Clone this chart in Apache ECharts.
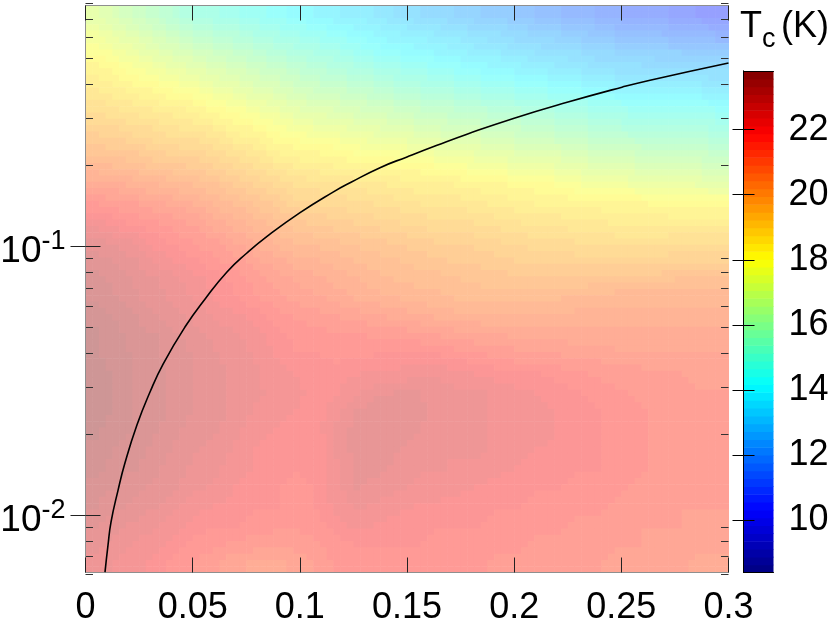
<!DOCTYPE html>
<html>
<head>
<meta charset="utf-8">
<style>
  html, body { margin: 0; padding: 0; background: #fff; }
  #chart { width: 830px; height: 619px; }
</style>
</head>
<body>
<div id="chart"></div>
<script src="https://cdn.jsdelivr.net/npm/echarts@6/dist/echarts.min.js"></script>
<script>
// cell edges of the map, left to right and top to bottom
const xEdges = [0, .0094, .0188, .0281, .0375, .0469, .0563, .0656, .075, .0844, .0938, .1031, .1125, .1219, .1313, .1406,
  .15, .1594, .1688, .1781, .1875, .1969, .2063, .2156, .225, .2344, .2438, .2531, .2625, .2719, .2813, .2906, .3];
const yEdges = [.785, .66846, .56851, .48351, .41122, .34974, .29745, .25298, .21516, .18299, .15563, .13236, .11257, .09574, .08143,
  .06925, .0589, .05009, .0426, .03623, .03082, .02621, .02229, .01896, .01612, .01371, .01166, .00992, .00843, .00717, .0061];

// Tc(K), one list per row, top row first
const tcRows = [
  [17.1,16.7,16.3,15.9,15.5,15.1,14.9,14.7,14.5,14.3,14.1,13.9,13.7,13.6,13.4,13.2,13.0,12.9,12.7,12.5,12.4,12.2,12.0,11.8,11.7,11.5,11.3,11.2,11.1,11.0,10.8,10.7],
  [17.6,17.2,16.9,16.5,16.2,15.8,15.6,15.4,15.1,14.9,14.7,14.5,14.3,14.1,13.9,13.7,13.6,13.4,13.3,13.1,13.0,12.8,12.6,12.5,12.3,12.2,12.0,11.9,11.8,11.7,11.6,11.5],
  [18.0,17.7,17.4,17.1,16.8,16.5,16.3,16.0,15.8,15.5,15.3,15.1,14.9,14.6,14.4,14.2,14.1,13.9,13.8,13.6,13.5,13.3,13.2,13.1,13.0,12.8,12.7,12.6,12.5,12.5,12.4,12.3],
  [18.4,18.2,17.9,17.7,17.4,17.2,16.9,16.7,16.4,16.2,15.9,15.7,15.5,15.3,15.1,14.9,14.7,14.6,14.4,14.2,14.1,13.9,13.8,13.6,13.5,13.3,13.2,13.2,13.1,13.1,13.0,13.0],
  [18.8,18.6,18.4,18.2,18.0,17.8,17.5,17.3,17.0,16.8,16.5,16.3,16.2,16.0,15.8,15.6,15.4,15.3,15.1,14.9,14.8,14.6,14.5,14.3,14.2,14.0,13.9,13.8,13.8,13.7,13.7,13.6],
  [19.2,19.0,18.9,18.7,18.6,18.4,18.1,17.9,17.6,17.4,17.1,16.9,16.8,16.6,16.5,16.3,16.1,16.0,15.8,15.7,15.5,15.4,15.3,15.1,15.0,14.8,14.7,14.6,14.6,14.5,14.5,14.4],
  [19.6,19.5,19.3,19.2,19.0,18.9,18.7,18.4,18.2,17.9,17.7,17.5,17.4,17.2,17.1,16.9,16.8,16.6,16.5,16.4,16.2,16.1,16.0,15.8,15.7,15.5,15.4,15.3,15.3,15.2,15.2,15.1],
  [20.0,19.9,19.8,19.6,19.5,19.4,19.2,18.9,18.7,18.4,18.2,18.1,18.0,17.8,17.7,17.6,17.5,17.3,17.2,17.1,16.9,16.8,16.7,16.6,16.4,16.3,16.2,16.1,16.0,16.0,15.9,15.8],
  [20.5,20.4,20.3,20.1,20.0,19.9,19.7,19.4,19.2,18.9,18.7,18.6,18.5,18.4,18.3,18.2,18.1,18.0,17.9,17.7,17.6,17.5,17.4,17.3,17.1,17.0,16.9,16.8,16.8,16.7,16.6,16.5],
  [21.1,21.0,20.8,20.7,20.5,20.4,20.2,19.9,19.7,19.4,19.2,19.1,19.0,18.9,18.8,18.7,18.6,18.6,18.5,18.4,18.3,18.2,18.1,18.0,17.8,17.7,17.6,17.5,17.5,17.4,17.3,17.2],
  [21.7,21.5,21.4,21.2,21.1,20.9,20.6,20.4,20.1,19.9,19.6,19.5,19.4,19.3,19.2,19.1,19.0,18.9,18.9,18.8,18.7,18.6,18.5,18.5,18.4,18.4,18.3,18.3,18.2,18.2,18.1,18.1],
  [22.2,22.0,21.8,21.7,21.5,21.3,21.0,20.8,20.5,20.3,20.0,19.9,19.8,19.7,19.6,19.5,19.4,19.3,19.3,19.2,19.1,19.0,18.9,18.9,18.8,18.8,18.7,18.7,18.7,18.6,18.6,18.6],
  [22.7,22.5,22.3,22.0,21.8,21.6,21.4,21.1,20.9,20.6,20.4,20.3,20.2,20.1,20.0,19.9,19.8,19.7,19.7,19.6,19.5,19.4,19.3,19.3,19.2,19.2,19.1,19.1,19.1,19.2,19.2,19.2],
  [23.0,22.8,22.6,22.3,22.1,21.9,21.7,21.5,21.2,21.0,20.8,20.7,20.6,20.4,20.3,20.2,20.1,20.0,19.9,19.9,19.8,19.7,19.7,19.7,19.6,19.6,19.6,19.6,19.6,19.7,19.7,19.7],
  [23.2,23.0,22.8,22.6,22.4,22.2,22.0,21.8,21.5,21.3,21.1,21.0,20.8,20.7,20.5,20.4,20.3,20.3,20.2,20.1,20.1,20.0,20.0,20.0,20.0,20.1,20.1,20.1,20.1,20.2,20.2,20.2],
  [23.3,23.1,22.9,22.7,22.5,22.3,22.1,21.9,21.7,21.5,21.3,21.2,21.1,20.9,20.8,20.7,20.6,20.5,20.4,20.4,20.3,20.3,20.3,20.4,20.5,20.5,20.6,20.6,20.6,20.6,20.6,20.6],
  [23.5,23.3,23.1,22.9,22.7,22.5,22.3,22.2,22.0,21.8,21.6,21.5,21.4,21.3,21.2,21.1,21.0,20.9,20.8,20.8,20.7,20.7,20.7,20.7,20.8,20.8,20.8,20.8,20.8,20.8,20.8,20.8],
  [23.6,23.4,23.2,23.1,22.9,22.7,22.5,22.4,22.2,22.0,21.8,21.8,21.7,21.7,21.6,21.6,21.5,21.4,21.3,21.2,21.2,21.1,21.1,21.1,21.0,21.0,21.0,21.0,21.0,21.0,21.0,21.0],
  [23.6,23.4,23.3,23.1,23.0,22.8,22.6,22.5,22.3,22.1,21.9,21.9,21.8,21.8,21.9,21.9,22.0,21.9,21.8,21.7,21.6,21.5,21.4,21.4,21.3,21.3,21.2,21.2,21.2,21.2,21.2,21.2],
  [23.7,23.5,23.3,23.2,23.0,22.8,22.7,22.5,22.4,22.2,22.1,22.0,22.0,22.1,22.2,22.2,22.3,22.3,22.2,22.1,22.0,21.9,21.9,21.8,21.7,21.6,21.5,21.5,21.4,21.4,21.3,21.3],
  [23.7,23.5,23.3,23.2,23.0,22.8,22.7,22.5,22.4,22.3,22.2,22.0,22.1,22.3,22.5,22.6,22.6,22.5,22.4,22.4,22.3,22.2,22.1,22.0,21.9,21.8,21.7,21.6,21.5,21.5,21.4,21.4],
  [23.7,23.5,23.3,23.2,23.0,22.8,22.7,22.5,22.3,22.2,22.1,22.0,22.3,22.6,22.8,22.8,22.7,22.5,22.4,22.4,22.3,22.3,22.2,22.1,22.0,21.9,21.8,21.7,21.6,21.6,21.5,21.5],
  [23.6,23.4,23.3,23.1,22.9,22.7,22.6,22.4,22.2,22.1,22.0,22.0,22.4,22.7,22.8,22.7,22.6,22.5,22.4,22.4,22.3,22.3,22.2,22.1,22.0,21.9,21.8,21.7,21.6,21.6,21.5,21.5],
  [23.5,23.3,23.2,23.0,22.8,22.6,22.5,22.3,22.1,22.0,21.9,21.9,22.4,22.7,22.8,22.6,22.5,22.4,22.4,22.4,22.3,22.2,22.1,22.1,22.0,21.9,21.8,21.7,21.6,21.6,21.5,21.5],
  [23.4,23.2,23.1,22.9,22.7,22.5,22.4,22.2,22.1,22.0,21.9,21.9,22.3,22.7,22.7,22.5,22.4,22.4,22.3,22.3,22.2,22.1,22.0,22.0,21.9,21.9,21.8,21.7,21.6,21.6,21.5,21.5],
  [23.2,23.1,22.9,22.8,22.6,22.4,22.3,22.1,22.0,21.9,21.8,21.9,22.3,22.6,22.5,22.4,22.3,22.2,22.2,22.1,22.0,22.0,21.9,21.9,21.8,21.8,21.7,21.6,21.5,21.5,21.4,21.4],
  [23.1,22.9,22.8,22.6,22.4,22.2,22.1,22.0,21.9,21.9,21.8,21.9,22.2,22.4,22.3,22.2,22.1,22.1,22.0,21.9,21.9,21.9,21.8,21.8,21.7,21.7,21.6,21.5,21.5,21.4,21.4,21.4],
  [22.9,22.7,22.5,22.4,22.2,22.0,21.9,21.9,21.8,21.7,21.7,21.8,22.0,22.2,22.1,22.0,22.0,21.9,21.9,21.9,21.8,21.8,21.7,21.7,21.6,21.6,21.5,21.4,21.4,21.4,21.3,21.3],
  [22.7,22.5,22.3,22.2,22.0,21.8,21.7,21.6,21.5,21.5,21.5,21.6,21.8,21.9,21.9,21.9,21.9,21.8,21.8,21.8,21.7,21.7,21.6,21.6,21.5,21.5,21.4,21.4,21.3,21.3,21.2,21.2],
  [22.5,22.3,22.2,22.0,21.8,21.6,21.4,21.2,21.1,21.1,21.2,21.4,21.7,21.8,21.8,21.8,21.8,21.7,21.7,21.7,21.6,21.6,21.5,21.5,21.4,21.4,21.3,21.3,21.2,21.2,21.1,21.1]
];

// black boundary curve, [x, y]
const curvePoints = [[.0091,.00612],[.0105,.00771],[.0119,.00939],[.0152,.01236],[.0184,.01558],[.024,.02157],[.0301,.02862],[.0362,.03638],
  [.0464,.04995],[.0558,.06351],[.066,.08003],[.0753,.09418],[.0847,.1086],[.1001,.1331],[.1155,.1587],[.1239,.1727],[.1374,.1957],[.15,.2146],[.164,.237],[.178,.2607],[.2,.299],
  [.2247,.3426],[.2503,.3899],[.2634,.414],[.3,.4799]];

const yMajorTicks = [0.01, 0.1];
const yMinorTicks = [.006,.007,.008,.009,.02,.03,.04,.05,.06,.07,.08,.09,.2,.3,.4,.5,.6,.7,.8];
const barTicks = [10, 12, 14, 16, 18, 20, 22];

const tcMin = 8.4, tcMax = 23.8, levelCount = 64;
const mapAlpha = 0.41;
const shadeSteps = 3; // each cell shaded in 3x3, like "shading interp" in the original
const fontName = '"Liberation Sans", Arial, sans-serif';

// matlab style jet, cut into 64 steps like the original bar
function jet(tc) {
  let idx = Math.floor((tc - tcMin) / (tcMax - tcMin) * levelCount);
  idx = Math.max(0, Math.min(levelCount - 1, idx));
  const t = (idx + 0.5) / levelCount;
  const part = v => Math.max(0, Math.min(1, v));
  return [part(1.5 - Math.abs(4 * t - 3)), part(1.5 - Math.abs(4 * t - 2)), part(1.5 - Math.abs(4 * t - 1))];
}
function css(rgb, alpha) {
  // mixed with white here so neighbouring cells can overlap without seams
  const c = rgb.map(v => Math.round(255 * (v * alpha + 1 - alpha)));
  return 'rgb(' + c.join(',') + ')';
}

// colour shade inside a cell, between the values of the nearest table cells
function shadeAt(col, row) {
  const c = Math.max(0, Math.min(tcRows[0].length - 1.001, col));
  const r = Math.max(0, Math.min(tcRows.length - 1.001, row));
  const c0 = Math.floor(c), r0 = Math.floor(r);
  const fc = c - c0, fr = r - r0;
  return (tcRows[r0][c0] * (1 - fc) + tcRows[r0][c0 + 1] * fc) * (1 - fr) +
    (tcRows[r0 + 1][c0] * (1 - fc) + tcRows[r0 + 1][c0 + 1] * fc) * fr;
}

const cells = [];
tcRows.forEach((row, j) => row.forEach((tc, i) => {
  cells.push([xEdges[i], xEdges[i + 1], yEdges[j + 1], yEdges[j], tc, i, j]);
}));

const barCells = [];
for (let k = 0; k < levelCount; k++) {
  const step = (tcMax - tcMin) / levelCount;
  barCells.push([0, 1, tcMin + k * step, tcMin + (k + 1) * step, tcMin + (k + 0.5) * step]);
}

function renderMapCell(params, api) {
  const a = api.coord([api.value(0), api.value(3)]);
  const b = api.coord([api.value(1), api.value(2)]);
  const col = api.value(5), row = api.value(6);
  const w = (b[0] - a[0]) / shadeSteps, h = (b[1] - a[1]) / shadeSteps;
  const children = [];
  for (let sy = 0; sy < shadeSteps; sy++) {
    for (let sx = 0; sx < shadeSteps; sx++) {
      const tc = shadeAt(col + (sx + 0.5) / shadeSteps - 0.5, row + (sy + 0.5) / shadeSteps - 0.5);
      children.push({
        type: 'rect',
        shape: { x: a[0] + sx * w, y: a[1] + sy * h, width: w + 0.6, height: h + 0.6 },
        style: { fill: css(jet(tc), mapAlpha) }
      });
    }
  }
  return { type: 'group', children: children };
}

function renderBarCell(params, api) {
  const a = api.coord([api.value(0), api.value(3)]);
  const b = api.coord([api.value(1), api.value(2)]);
  return {
    type: 'rect',
    shape: { x: a[0], y: a[1], width: b[0] - a[0], height: b[1] - a[1] + 0.6 },
    style: { fill: css(jet(api.value(4)), 1) }
  };
}

function renderMinorTick(params, api) {
  const v = api.value(0);
  const l = api.coord([0, v]);
  const r = api.coord([0.3, v]);
  const style = { stroke: '#333', lineWidth: 1 };
  const y = Math.round(l[1]) + 0.5;
  return {
    type: 'group',
    children: [
      { type: 'line', shape: { x1: l[0], y1: y, x2: l[0] + 7.5, y2: y }, style: style },
      { type: 'line', shape: { x1: r[0], y1: y, x2: r[0] - 7.5, y2: y }, style: style }
    ]
  };
}

const frameLine = { lineStyle: { color: '#8f8f8f', width: 1 } };
const tickStyle = { color: '#222', width: 1 };

const chart = echarts.init(document.getElementById('chart'));
chart.setOption({
  animation: false,
  backgroundColor: '#fff',
  grid: [
    { left: 85.5, top: 5.5, width: 643, height: 567, outerBoundsMode: 'none' },
    { left: 743.5, top: 71, width: 30, height: 501.5, outerBoundsMode: 'none' }
  ],
  xAxis: [
    { type: 'value', gridIndex: 0, min: 0, max: 0.3, interval: 0.05, z: 5, axisLine: frameLine,
      axisTick: { inside: true, length: 15, lineStyle: tickStyle }, splitLine: { show: false },
      axisLabel: { color: '#000', fontFamily: fontName, fontSize: 36, margin: 18, hideOverlap: false } },
    { type: 'value', gridIndex: 0, position: 'top', min: 0, max: 0.3, interval: 0.05, z: 5, axisLine: frameLine,
      axisTick: { inside: true, length: 15, lineStyle: tickStyle }, splitLine: { show: false }, axisLabel: { show: false } },
    { type: 'value', gridIndex: 1, min: 0, max: 1, z: 5, axisLine: { lineStyle: { color: '#000', width: 1 } },
      axisTick: { show: false }, axisLabel: { show: false }, splitLine: { show: false } },
    { type: 'value', gridIndex: 1, position: 'top', min: 0, max: 1, z: 5, axisLine: { lineStyle: { color: '#000', width: 1 } },
      axisTick: { show: false }, axisLabel: { show: false }, splitLine: { show: false } }
  ],
  yAxis: [
    { type: 'log', logBase: 10, gridIndex: 0, min: 0.0061, max: 0.785, z: 5, axisLine: frameLine, splitLine: { show: false }, minorTick: { show: false },
      axisTick: { inside: true, length: 15, lineStyle: tickStyle, customValues: yMajorTicks },
      axisLabel: {
        customValues: yMajorTicks, margin: 20, padding: [12, 0, 0, 0],
        formatter: v => '{b|10}{s|' + Math.round(Math.log10(v)) + '}',
        rich: {
          b: { fontFamily: fontName, fontSize: 37, color: '#000' },
          s: { fontFamily: fontName, fontSize: 27, color: '#000', padding: [0, 0, 21, 0] }
        }
      } },
    { type: 'log', logBase: 10, gridIndex: 0, position: 'right', min: 0.0061, max: 0.785, z: 5, axisLine: frameLine, splitLine: { show: false }, minorTick: { show: false },
      axisTick: { inside: true, length: 15, lineStyle: tickStyle, customValues: yMajorTicks }, axisLabel: { show: false } },
    { type: 'value', gridIndex: 1, position: 'right', min: tcMin, max: tcMax, z: 5, axisLine: { lineStyle: { color: '#000', width: 1 } }, splitLine: { show: false },
      axisTick: { inside: true, length: 11, lineStyle: { color: '#000', width: 1 }, customValues: barTicks },
      axisLabel: { customValues: barTicks, color: '#000', fontFamily: fontName, fontSize: 36, margin: 15 } },
    { type: 'value', gridIndex: 1, position: 'left', min: tcMin, max: tcMax, z: 5, axisLine: { lineStyle: { color: '#000', width: 1 } }, splitLine: { show: false },
      axisTick: { inside: true, length: 11, lineStyle: { color: '#000', width: 1 }, customValues: barTicks }, axisLabel: { show: false } }
  ],
  series: [
    { type: 'custom', name: 'Tc map', xAxisIndex: 0, yAxisIndex: 0, z: 1, clip: true, renderItem: renderMapCell, data: cells },
    { type: 'custom', name: 'minor ticks', xAxisIndex: 0, yAxisIndex: 0, z: 4, clip: false, renderItem: renderMinorTick, data: yMinorTicks.map(v => [v]), encode: { y: 0 } },
    { type: 'line', name: 'boundary', xAxisIndex: 0, yAxisIndex: 0, z: 6, data: curvePoints, smooth: 0.5, showSymbol: false, lineStyle: { color: '#000', width: 1.6 } },
    { type: 'custom', name: 'colour bar', xAxisIndex: 2, yAxisIndex: 2, z: 1, clip: true, renderItem: renderBarCell, data: barCells }
  ],
  graphic: [
    { type: 'text', x: 740, y: 9, z: 10, style: { text: 'T', font: '36px ' + fontName, fill: '#000' } },
    { type: 'text', x: 762, y: 26, z: 10, style: { text: 'c', font: '27px ' + fontName, fill: '#000' } },
    { type: 'text', x: 781, y: 9, z: 10, style: { text: '(K)', font: '36px ' + fontName, fill: '#000' } }
  ]
});
</script>
</body>
</html>
